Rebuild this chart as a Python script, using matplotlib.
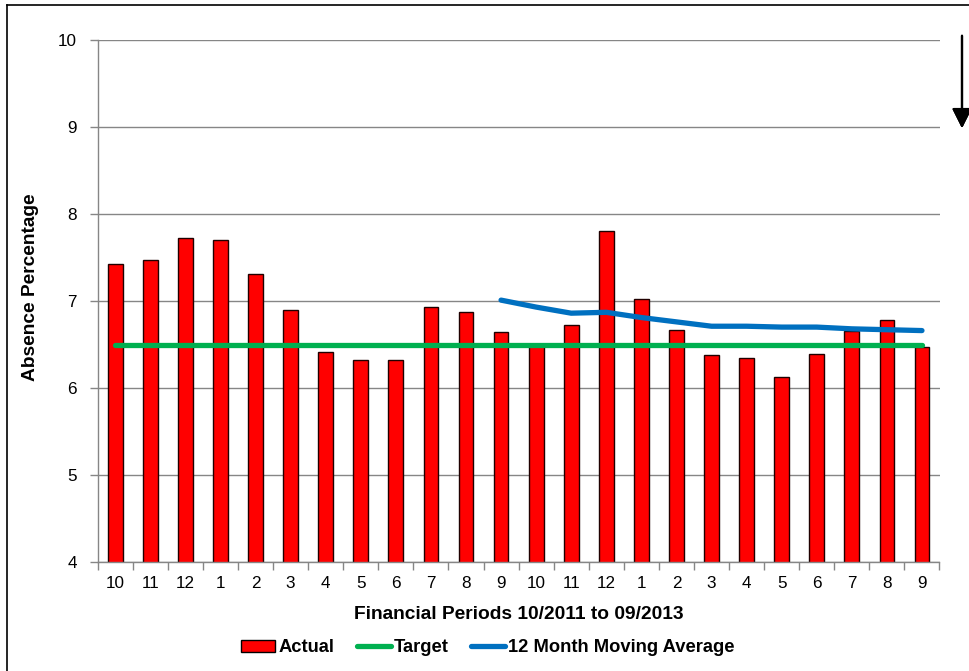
import numpy as np
import matplotlib.pyplot as plt
from matplotlib.lines import Line2D
from matplotlib.patches import Patch

plt.rcParams["font.family"] = ["Liberation Sans", "DejaVu Sans"]

# Financial periods 10/2011 .. 09/2013 (month numbers)
periods = ["10", "11", "12", "1", "2", "3", "4", "5", "6", "7", "8", "9",
           "10", "11", "12", "1", "2", "3", "4", "5", "6", "7", "8", "9"]
actual = [7.43, 7.47, 7.72, 7.70, 7.31, 6.90, 6.41, 6.32, 6.32, 6.93, 6.87, 6.64,
          6.49, 6.72, 7.80, 7.02, 6.67, 6.38, 6.35, 6.13, 6.39, 6.66, 6.78, 6.47]
target = [6.5] * 24
# 12 month moving average only exists from the 12th period onwards
moving_avg = [None] * 11 + [7.01, 6.93, 6.86, 6.87, 6.81, 6.76, 6.71, 6.71,
                            6.70, 6.70, 6.68, 6.67, 6.66]

RED = "#FF0000"
GREEN = "#00B050"
BLUE = "#0070C0"
GRID = "#868686"

fig = plt.figure(figsize=(9.7, 6.71), dpi=100)
ax = fig.add_axes([97.7 / 970, 1 - 562 / 671, 841.8 / 970, 522 / 671])

x = np.arange(len(periods))
ax.bar(x, actual, width=0.42, bottom=0, color=RED, edgecolor="#200000",
       linewidth=1.0, zorder=2)
ax.plot(x, target, color=GREEN, linewidth=3.8, solid_capstyle="round", zorder=3)
ma = np.array([np.nan if v is None else v for v in moving_avg], dtype=float)
ax.plot(x, ma, color=BLUE, linewidth=3.8, solid_capstyle="round", zorder=4)

ax.set_xlim(-0.5, len(periods) - 0.5)
ax.set_ylim(4, 10)
ax.set_yticks(range(4, 11))
ax.yaxis.grid(True, color=GRID, linewidth=1.0)
ax.set_axisbelow(True)

ax.set_xticks(x)
ax.set_xticklabels(periods)
ax.set_xticks(np.arange(-0.5, len(periods)), minor=True)
ax.tick_params(axis="x", which="major", length=0, pad=10, labelsize=12.3)
ax.tick_params(axis="x", which="minor", length=6, color=GRID, width=1)
ax.tick_params(axis="y", length=6, color=GRID, width=1, pad=9, labelsize=12.3)

for side in ("top", "right"):
    ax.spines[side].set_visible(False)
for side in ("left", "bottom"):
    ax.spines[side].set_color(GRID)
    ax.spines[side].set_linewidth(1.0)

ax.set_xlabel("Financial Periods 10/2011 to 09/2013", fontsize=13.8,
              fontweight="bold")
ax.set_ylabel("Absence Percentage", fontsize=13.8, fontweight="bold")
ax.xaxis.set_label_coords(0.5, -0.085)
ax.yaxis.set_label_coords(-0.07, 0.527)

handles = [
    Patch(facecolor=RED, edgecolor="black", linewidth=1.0),
    Line2D([], [], color=GREEN, linewidth=3.8, solid_capstyle="round"),
    Line2D([], [], color=BLUE, linewidth=3.8, solid_capstyle="round"),
]
fig.legend(handles, ["Actual", "Target", "12 Month Moving Average"],
           loc="center", bbox_to_anchor=(488 / 970, 1 - 648 / 671), ncol=3,
           frameon=False, prop={"size": 13.2, "weight": "bold"},
           handlelength=1.85, handleheight=0.6, handletextpad=0.15,
           columnspacing=1.25)

# chart area border (left and top edges)
fig.add_artist(Line2D([7 / 970, 7 / 970], [0, 1 - 5 / 671], color="black",
                      linewidth=1.2, transform=fig.transFigure))
fig.add_artist(Line2D([7 / 970, 1], [1 - 5 / 671, 1 - 5 / 671], color="black",
                      linewidth=1.2, transform=fig.transFigure))

# downward arrow: lower is better
fig.add_artist(plt.annotate("", xy=(962 / 970, 1 - 131 / 671),
                            xytext=(962 / 970, 1 - 33 / 671),
                            xycoords="figure fraction",
                            arrowprops=dict(arrowstyle="-|>", color="black",
                                            linewidth=1.6, mutation_scale=30)))

fig.savefig("out.png", dpi=100)
